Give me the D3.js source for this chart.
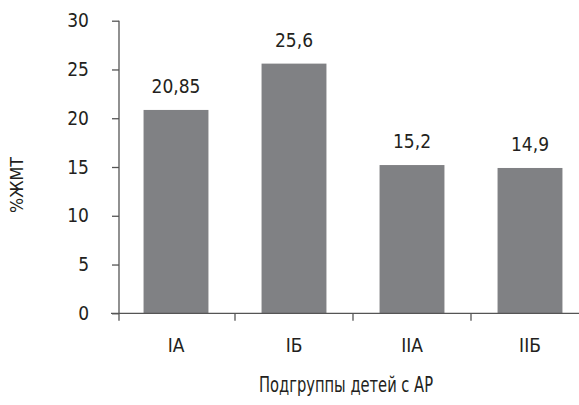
<!DOCTYPE html>
<html>
<head>
<meta charset="utf-8">
<script src="https://cdn.jsdelivr.net/npm/d3@7"></script>
<style>
  html, body { margin: 0; padding: 0; background: #fff; }
  svg text { font-family: "DejaVu Sans Condensed", "Liberation Sans Narrow", sans-serif; fill: #231f20; }
</style>
</head>
<body>
<svg id="chart" width="579" height="405"></svg>
<script>
// Subgroups of children and their body-fat percentage
const categories = ["IA", "IБ", "IIA", "IIБ"];
const values = [20.85, 25.6, 15.2, 14.9];
const valueLabels = ["20,85", "25,6", "15,2", "14,9"];
const yTicks = [0, 5, 10, 15, 20, 25, 30];
const xTitle = "Подгруппы детей с АР";
const yTitle = "%ЖМТ";

const svg = d3.select("#chart");
const axisColor = "#555555";
const barColor = "#808184";
const font = "DejaVu Sans Condensed, Liberation Sans Narrow, sans-serif";

const x0 = 119, yBottom = 313.3, yTop = 20.7;

const y = d3.scaleLinear().domain([0, 30]).range([yBottom, yTop]);
const x = d3.scaleBand().domain(categories)
  .range([117, 589]).paddingInner(0.45).paddingOuter(0.225);

// bars
svg.append("g").selectAll("rect")
  .data(categories)
  .join("rect")
  .attr("x", d => x(d))
  .attr("width", x.bandwidth())
  .attr("y", (d, i) => y(values[i]))
  .attr("height", (d, i) => y(0) - y(values[i]))
  .attr("fill", barColor);

// value labels
svg.append("g").selectAll("text")
  .data(categories)
  .join("text")
  .attr("x", d => x(d) + x.bandwidth() / 2)
  .attr("y", (d, i) => y(values[i]) - 17)
  .attr("text-anchor", "middle")
  .attr("font-size", 19)
  .text((d, i) => valueLabels[i]);

// y axis
const yAxis = svg.append("g")
  .attr("transform", `translate(${x0},0)`)
  .call(d3.axisLeft(y).tickValues(yTicks).tickSize(7).tickPadding(23).tickSizeOuter(0));
yAxis.select(".domain").remove();
yAxis.append("line")
  .attr("x1", 0).attr("x2", 0)
  .attr("y1", yTop).attr("y2", yBottom + 7.4)
  .attr("stroke", axisColor).attr("stroke-width", 1.3);
yAxis.selectAll(".tick line").attr("stroke", axisColor).attr("stroke-width", 1.3);
yAxis.selectAll(".tick text").attr("font-size", 19).attr("fill", "#231f20")
  .attr("font-family", font);

// x axis baseline
svg.append("line")
  .attr("x1", 111).attr("x2", 579)
  .attr("y1", yBottom).attr("y2", yBottom)
  .attr("stroke", axisColor).attr("stroke-width", 1.3);

// category boundary ticks
svg.append("g").selectAll("line")
  .data(categories.slice(1))
  .join("line")
  .attr("x1", (d, i) => x.range()[0] + (i + 1) * x.step())
  .attr("x2", (d, i) => x.range()[0] + (i + 1) * x.step())
  .attr("y1", yBottom).attr("y2", yBottom + 7.4)
  .attr("stroke", axisColor).attr("stroke-width", 1.3);

// category labels
const xAxis = svg.append("g")
  .attr("transform", `translate(0,${yBottom})`)
  .call(d3.axisBottom(x).tickSize(0).tickPadding(25));
xAxis.select(".domain").remove();
xAxis.selectAll(".tick text").attr("font-size", 19).attr("fill", "#231f20")
  .attr("font-family", font);

// axis titles
svg.append("text")
  .attr("x", 346).attr("y", 392)
  .attr("text-anchor", "middle")
  .attr("font-size", 21)
  .attr("textLength", 174)
  .attr("lengthAdjust", "spacingAndGlyphs")
  .text(xTitle);

svg.append("text")
  .attr("transform", "translate(23,185) rotate(-90)")
  .attr("text-anchor", "middle")
  .attr("font-size", 17)
  .attr("textLength", 56)
  .attr("lengthAdjust", "spacingAndGlyphs")
  .text(yTitle);
</script>
</body>
</html>
